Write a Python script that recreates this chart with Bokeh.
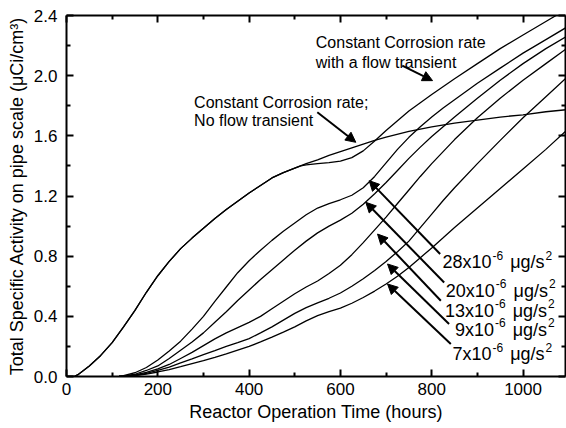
from bokeh.plotting import figure
from bokeh.models import (LinearAxis, FixedTicker, PrintfTickFormatter, Range1d,
                          Arrow, NormalHead, ColumnDataSource, CustomLabelingPolicy)
from bokeh.core.properties import value
from bokeh.embed import file_html
from bokeh.resources import INLINE

# ---------------- data ----------------
hours_a = [0, 17, 25, 50, 75, 100, 125, 150, 175, 200, 225, 250, 275, 300, 325, 350,
           375, 400, 425, 450, 475, 500, 525, 550, 575, 600, 625, 650, 675, 700, 750,
           800, 850, 900, 950, 1000, 1050, 1100]
act_no_transient = [0, 0, 0.012, 0.07, 0.14, 0.225, 0.33, 0.44, 0.56, 0.67, 0.765, 0.85,
                    0.92, 0.985, 1.05, 1.11, 1.165, 1.22, 1.27, 1.32, 1.355, 1.385,
                    1.415, 1.44, 1.47, 1.495, 1.52, 1.545, 1.57, 1.592, 1.63, 1.66,
                    1.685, 1.705, 1.725, 1.74, 1.76, 1.775]

hours_b = [0, 17, 25, 50, 75, 100, 125, 150, 175, 200, 225, 250, 275, 300, 325, 350,
           375, 400, 425, 450, 475, 500, 513, 525, 550, 575, 600, 625, 650, 675, 700,
           725, 750, 775, 800, 850, 900, 950, 1000, 1050, 1100]
act_flow_transient = [0, 0, 0.012, 0.07, 0.14, 0.225, 0.33, 0.44, 0.56, 0.67, 0.765,
                      0.85, 0.92, 0.985, 1.05, 1.11, 1.165, 1.22, 1.27, 1.32, 1.355,
                      1.385, 1.40, 1.407, 1.415, 1.422, 1.432, 1.455, 1.50, 1.565,
                      1.635, 1.70, 1.765, 1.82, 1.875, 1.98, 2.08, 2.18, 2.27, 2.36,
                      2.45]

hours_r = [115, 125, 150, 175, 200, 225, 250, 275, 300, 325, 350, 375, 400, 425, 450,
           475, 500, 525, 550, 575, 600, 625, 650, 675, 700, 725, 750, 775, 800, 825,
           850, 900, 950, 1000, 1050, 1100]
act_28 = [0, 0.005, 0.025, 0.06, 0.11, 0.17, 0.235, 0.315, 0.40, 0.50, 0.595, 0.69,
          0.77, 0.84, 0.905, 0.965, 1.02, 1.075, 1.12, 1.15, 1.175, 1.205, 1.255, 1.33,
          1.42, 1.51, 1.59, 1.66, 1.725, 1.785, 1.84, 1.95, 2.05, 2.15, 2.24, 2.33]
act_20 = [0, 0.003, 0.015, 0.04, 0.07, 0.12, 0.175, 0.23, 0.29, 0.36, 0.43, 0.505,
          0.575, 0.645, 0.71, 0.775, 0.84, 0.90, 0.955, 1.00, 1.04, 1.085, 1.145, 1.215,
          1.29, 1.37, 1.45, 1.525, 1.595, 1.66, 1.725, 1.85, 1.97, 2.08, 2.18, 2.27]
act_13 = [0, 0.002, 0.01, 0.028, 0.05, 0.08, 0.12, 0.16, 0.205, 0.25, 0.29, 0.325,
          0.36, 0.40, 0.45, 0.50, 0.55, 0.595, 0.635, 0.685, 0.74, 0.81, 0.89, 0.975,
          1.06, 1.15, 1.24, 1.33, 1.415, 1.495, 1.575, 1.72, 1.85, 1.97, 2.08, 2.19]
act_9 = [0, 0.002, 0.008, 0.02, 0.04, 0.063, 0.09, 0.117, 0.145, 0.172, 0.20, 0.225,
         0.252, 0.29, 0.33, 0.375, 0.42, 0.458, 0.49, 0.52, 0.555, 0.60, 0.65, 0.705,
         0.765, 0.83, 0.90, 0.99, 1.08, 1.17, 1.255, 1.415, 1.57, 1.72, 1.86, 2.0]
act_7 = [0, 0.002, 0.006, 0.016, 0.03, 0.046, 0.065, 0.085, 0.105, 0.127, 0.15, 0.175,
         0.20, 0.23, 0.262, 0.295, 0.33, 0.37, 0.405, 0.432, 0.455, 0.487, 0.525, 0.568,
         0.615, 0.667, 0.725, 0.79, 0.855, 0.922, 0.99, 1.12, 1.25, 1.38, 1.51, 1.65]

rate_labels = ["28", "20", "13", "9", "7"]
x_ticks = [0, 200, 400, 600, 800, 1000]
x_minor = [100, 300, 500, 700, 900]
y_ticks = [0.0, 0.4, 0.8, 1.2, 1.6, 2.0, 2.4]
y_minor = [0.2, 0.6, 1.0, 1.4, 1.8, 2.2]

# ---------------- annotation placement (data coordinates) ----------------
rate_label_x = [823.6, 830.9, 829.0, 851.0, 845.5]
rate_label_y = [0.758, 0.570, 0.437, 0.310, 0.149]
arrow_src = dict(
    x_start=[818.4, 827.2, 820.0, 838.0, 841.8, 735.4, 549.4],
    y_start=[0.814, 0.625, 0.504, 0.349, 0.216, 2.067, 1.757],
    x_end=[662.9, 655.6, 681.3, 703.2, 703.2, 801.8, 633.7],
    y_end=[1.302, 1.158, 0.947, 0.748, 0.615, 1.967, 1.557],
)

FONT = "Liberation Sans"

p = figure(width=566, height=428, output_backend="svg", toolbar_location=None,
           x_range=Range1d(0, 1093), y_range=Range1d(0, 2.4),
           min_border_left=66, min_border_right=1, min_border_top=15,
           min_border_bottom=52)
p.outline_line_color = None
p.xgrid.visible = False
p.ygrid.visible = False
p.background_fill_color = "white"
p.border_fill_color = "white"

no_labels = CustomLabelingPolicy(code="""
    for (const i of indices) {
        indices.unset(i)
    }
    return indices
""")


def style_axis(ax, labelled):
    ax.axis_line_width = 2
    ax.axis_line_color = "black"
    ax.major_tick_in = 7
    ax.major_tick_out = 0
    ax.minor_tick_in = 4
    ax.minor_tick_out = 0
    ax.major_tick_line_width = 2
    ax.minor_tick_line_width = 2
    ax.major_tick_line_color = "black"
    ax.minor_tick_line_color = "black"
    ax.major_label_text_font = FONT
    ax.major_label_text_color = "black"
    ax.axis_label_text_font = FONT
    ax.axis_label_text_font_style = "normal"
    ax.axis_label_text_color = "black"
    ax.axis_label_text_font_size = "18px"
    if labelled:
        ax.major_label_text_font_size = "17px"
    else:
        ax.major_label_text_font_size = "0px"
        ax.major_label_standoff = 0
        ax.major_label_policy = no_labels


xa = p.xaxis[0]
xa.ticker = FixedTicker(ticks=x_ticks, minor_ticks=x_minor)
style_axis(xa, True)
xa.major_label_standoff = 6
xa.axis_label = "Reactor Operation Time (hours)"
xa.axis_label_standoff = 4

ya = p.yaxis[0]
ya.ticker = FixedTicker(ticks=y_ticks, minor_ticks=y_minor)
ya.formatter = PrintfTickFormatter(format="%.1f")
style_axis(ya, True)
ya.major_label_standoff = 9
ya.axis_label = "Total Specific Activity on pipe scale (\u03bcCi/cm\u00b3)"
ya.axis_label_standoff = 4

top = LinearAxis(ticker=FixedTicker(ticks=x_ticks, minor_ticks=x_minor))
style_axis(top, False)
p.add_layout(top, "above")
right = LinearAxis(ticker=FixedTicker(ticks=y_ticks, minor_ticks=y_minor))
style_axis(right, False)
p.add_layout(right, "right")

# ---------------- curves ----------------
lw = 1.3
p.line(hours_a, act_no_transient, line_color="black", line_width=lw)
p.line(hours_b, act_flow_transient, line_color="black", line_width=lw)
for series in (act_28, act_20, act_13, act_9, act_7):
    p.line(hours_r, series, line_color="black", line_width=lw)

# ---------------- arrows ----------------
p.add_layout(Arrow(end=NormalHead(size=10, fill_color="black", line_color="black",
                                  line_width=1),
                   source=ColumnDataSource(arrow_src),
                   x_start="x_start", y_start="y_start", x_end="x_end", y_end="y_end",
                   line_color="black", line_width=2))

# ---------------- texts ----------------
CW = {'0': .556, '1': .556, '2': .556, '3': .556, '4': .556, '5': .556, '6': .556,
      '7': .556, '8': .556, '9': .556, 'x': .5, '-': .333, ' ': .278, '\u03bc': .576,
      'g': .556, '/': .278, 's': .5}


def tw(s, size):
    return sum(CW.get(c, .556) for c in s) * size


MAIN, SUP = 18, 12
big = dict(x=[], y=[], text=[], xo=[])
small = dict(x=[], y=[], text=[], xo=[])
for r, lx, ly in zip(rate_labels, rate_label_x, rate_label_y):
    main = r + "x10"
    w_main = tw(main, MAIN)
    unit_off = w_main + tw("-6", SUP) + 8
    for d, s, xo in ((big, main, 0), (small, "-6", w_main + 1),
                     (big, "\u03bcg/s", unit_off),
                     (small, "2", unit_off + tw("\u03bcg/s", MAIN) + 1)):
        d["x"].append(lx); d["y"].append(ly); d["text"].append(s); d["xo"].append(xo)

p.text(x="x", y="y", text="text", x_offset="xo", source=ColumnDataSource(big),
       text_font=value(FONT), text_font_size=value(f"{MAIN}px"), text_color="black",
       text_align="left", text_baseline="alphabetic")
p.text(x="x", y="y", text="text", x_offset="xo", y_offset=-7,
       source=ColumnDataSource(small),
       text_font=value(FONT), text_font_size=value(f"{SUP}px"), text_color="black",
       text_align="left", text_baseline="alphabetic")

note_x = [279.5, 279.5, 546.1, 546.1]
note_y = [1.823, 1.701, 2.222, 2.089]
note_text = ["Constant Corrosion rate;", "No flow transient",
             "Constant Corrosion rate", "with a flow transient"]
p.text(x=note_x, y=note_y, text=note_text, text_font=value(FONT),
       text_font_size=value("16px"), text_color="black", text_align="left",
       text_baseline="alphabetic")

open("out.html", "w").write(file_html(p, INLINE))
